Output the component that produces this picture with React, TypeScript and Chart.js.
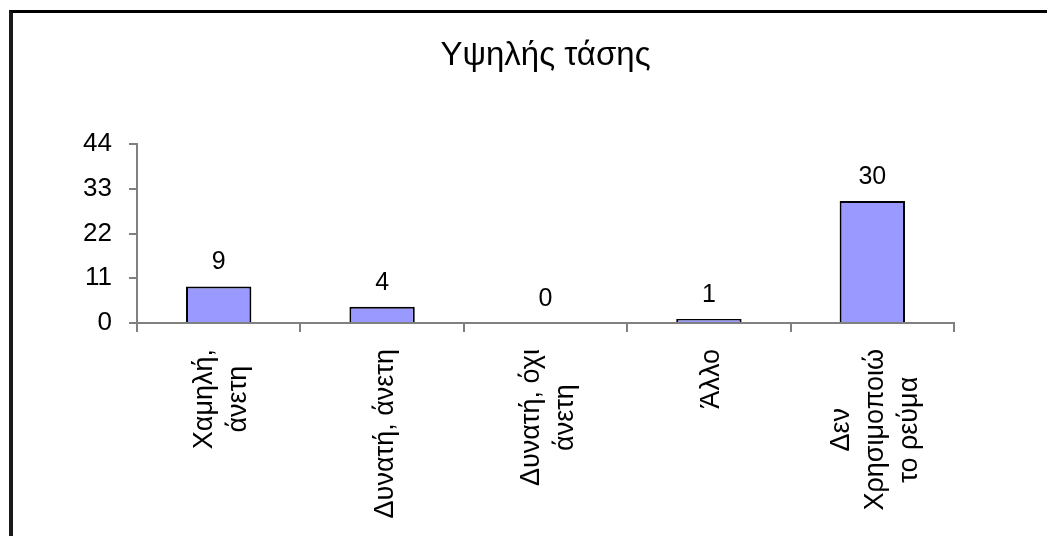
import React, { useEffect, useRef } from "react";
import { Chart, registerables } from "chart.js";

Chart.register(...registerables);

const chartTitle = "Υψηλής τάσης";
const categories: string[][] = [
  ["Χαμηλή,", "άνετη"],
  ["Δυνατή, άνετη"],
  ["Δυνατή, όχι", "άνετη"],
  ["Άλλο"],
  ["Δεν", "Χρησιμοποιώ", "το ρεύμα"],
];
const values = [9, 4, 0, 1, 30];
const yTicks = [0, 11, 22, 33, 44];

const FONT = "'Liberation Sans', Arial, sans-serif";

const valueLabels = {
  id: "valueLabels",
  afterDatasetsDraw(chart: any) {
    const ctx = chart.ctx;
    const meta = chart.getDatasetMeta(0);
    ctx.save();
    ctx.font = `25px ${FONT}`;
    ctx.fillStyle = "#000";
    ctx.textAlign = "center";
    ctx.textBaseline = "alphabetic";
    meta.data.forEach((bar: any, i: number) => {
      ctx.fillText(String(values[i]), bar.x, bar.y - 17);
    });
    ctx.restore();
  },
};

const categoryLabels = {
  id: "categoryLabels",
  afterDraw(chart: any) {
    const ctx = chart.ctx;
    const xs = chart.scales.x;
    const lineGap = 34;
    ctx.save();
    ctx.font = `27px ${FONT}`;
    ctx.fillStyle = "#000";
    ctx.textAlign = "center";
    ctx.textBaseline = "middle";
    categories.forEach((lines, i) => {
      const x = xs.getPixelForValue(i) + 3;
      const maxW = Math.max(...lines.map((l) => ctx.measureText(l).width));
      const top = xs.top + 26;
      ctx.save();
      ctx.translate(x, top + maxW / 2);
      ctx.rotate(-Math.PI / 2);
      const n = lines.length;
      lines.forEach((l, j) => {
        ctx.fillText(l, 0, (j - (n - 1) / 2) * lineGap);
      });
      ctx.restore();
    });
    ctx.restore();
  },
};

export default function App() {
  const ref = useRef<HTMLCanvasElement | null>(null);

  useEffect(() => {
    if (!ref.current) return;
    const chart = new Chart(ref.current, {
      type: "bar",
      data: {
        labels: categories.map((c) => c.join(" ")),
        datasets: [
          {
            data: values,
            backgroundColor: "#9999ff",
            borderColor: "#000000",
            borderWidth: 2,
            barPercentage: 0.4,
            categoryPercentage: 1,
          },
        ],
      },
      options: {
        responsive: false,
        animation: false,
        devicePixelRatio: 1,
        layout: { padding: { left: 0, right: 93, top: 0, bottom: 0 } },
        plugins: {
          legend: { display: false },
          tooltip: { enabled: false },
          title: {
            display: true,
            fullSize: false,
            text: chartTitle,
            color: "#000",
            font: { family: FONT, size: 33, weight: "normal", lineHeight: 1.2 },
            padding: { top: 36, bottom: 68.4 },
          },
        },
        scales: {
          x: {
            type: "category",
            afterFit: (s: any) => {
              s.height = 213;
            },
            grid: {
              offset: true,
              drawOnChartArea: false,
              drawTicks: true,
              tickLength: 9,
              color: "#808080",
              lineWidth: 2,
            },
            border: { display: true, color: "#808080", width: 2 },
            ticks: { display: false },
          },
          y: {
            min: 0,
            max: 44,
            afterFit: (s: any) => {
              s.width = 137;
            },
            afterBuildTicks: (s: any) => {
              s.ticks = yTicks.map((v) => ({ value: v }));
            },
            grid: {
              drawOnChartArea: false,
              drawTicks: true,
              tickLength: 8,
              color: "#808080",
              lineWidth: 2,
            },
            border: { display: true, color: "#808080", width: 2 },
            ticks: {
              color: "#000",
              padding: 17,
              font: { family: FONT, size: 26 },
            },
          },
        },
      },
      plugins: [valueLabels, categoryLabels],
    });
    return () => chart.destroy();
  }, []);

  return (
    <>
      <canvas
        ref={ref}
        width={1047}
        height={536}
        style={{ position: "absolute", left: 0, top: 0, width: 1047, height: 536 }}
      />
      <div
        style={{
          position: "absolute",
          left: 9,
          top: 10,
          right: 0,
          bottom: 0,
          borderTop: "3px solid #000",
          borderLeft: "4px solid #1a1a1a",
          pointerEvents: "none",
        }}
      />
    </>
  );
}
